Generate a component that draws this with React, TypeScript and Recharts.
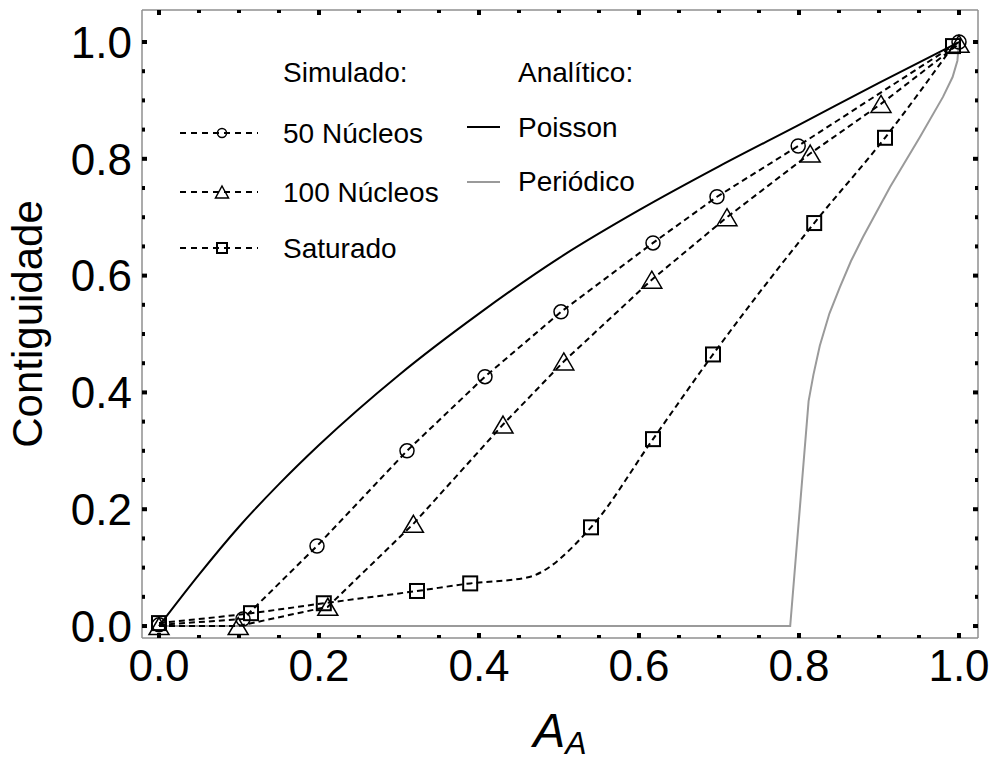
import React from "react";
import { ComposedChart, Line, XAxis, YAxis, Legend } from "recharts";

const FONT = "'Liberation Sans', Arial, sans-serif";
const FRAME = "#8f8f8f";
const GRAY = "#9a9a9a";

const X_DOMAIN = [-0.02125, 1.02375];
const Y_DOMAIN = [-0.0205, 1.0548];
const TICKS = [0, 0.05, 0.1, 0.15, 0.2, 0.25, 0.3, 0.35, 0.4, 0.45, 0.5, 0.55, 0.6, 0.65, 0.7, 0.75, 0.8, 0.85, 0.9, 0.95, 1.0];
const MAJOR = [0, 0.2, 0.4, 0.6, 0.8, 1.0];
const MAJOR_LABELS = ["0.0", "0.2", "0.4", "0.6", "0.8", "1.0"];

// simulado
const n50X = [0, 0.105, 0.1975, 0.31, 0.4075, 0.5025, 0.6175, 0.6975, 0.799, 1.0];
const n50Y = [0.002, 0.012, 0.137, 0.3, 0.427, 0.538, 0.656, 0.735, 0.822, 1.0];
const n100X = [0, 0.099, 0.211, 0.318, 0.43, 0.506, 0.616, 0.71, 0.814, 0.9025, 1.0];
const n100Y = [0, 0.0, 0.033, 0.175, 0.345, 0.453, 0.593, 0.7, 0.809, 0.894, 0.997];
const satX = [0, 0.115, 0.206, 0.3225, 0.389, 0.46, 0.54, 0.6175, 0.6925, 0.819, 0.9075, 0.9925];
const satY = [0.005, 0.022, 0.039, 0.06, 0.073, 0.083, 0.169, 0.32, 0.465, 0.69, 0.836, 0.993];
const SAT_NO_MARKER = [5];

// analitico
const poissonX = [0, 0.05, 0.1, 0.15, 0.2, 0.3, 0.4, 0.5, 0.6, 0.7, 0.8, 0.9, 1.0];
const poissonY = [0, 0.088, 0.17, 0.243, 0.31, 0.43, 0.535, 0.63, 0.712, 0.787, 0.858, 0.93, 1.0];
const periodX = [0, 0.789, 0.812, 0.818, 0.826, 0.838, 0.851, 0.865, 0.88, 0.914, 0.951, 0.98, 0.992, 0.998, 1.0];
const periodY = [0, 0, 0.385, 0.43, 0.48, 0.535, 0.58, 0.625, 0.666, 0.752, 0.837, 0.906, 0.94, 0.968, 1.0];

const toRows = (xs: number[], ys: number[]) => xs.map((x, i) => ({ x, y: ys[i] }));

const n50 = toRows(n50X, n50Y);
const n100 = toRows(n100X, n100Y);
const sat = toRows(satX, satY);
const poisson = toRows(poissonX, poissonY);
const period = toRows(periodX, periodY);

const majorIndex = (v: number) => MAJOR.findIndex((m) => Math.abs(m - v) < 1e-6);

const tickMark = (major: boolean) => (major ? 5 : 3);

const BottomTick = (p: any) => {
  const i = majorIndex(p.payload.value);
  const len = tickMark(i >= 0);
  return (
    <g>
      <rect x={p.x - 2} y={p.y - len} width={4} height={len} fill="#000" />
      {i >= 0 && (
        <text x={p.x} y={p.y + 43} textAnchor="middle" fontSize={44} fontFamily={FONT} fill="#000">
          {MAJOR_LABELS[i]}
        </text>
      )}
    </g>
  );
};

const TopTick = (p: any) => {
  const len = tickMark(majorIndex(p.payload.value) >= 0);
  return <rect x={p.x - 2} y={p.y} width={4} height={len} fill="#000" />;
};

const LeftTick = (p: any) => {
  const i = majorIndex(p.payload.value);
  const len = tickMark(i >= 0);
  return (
    <g>
      <rect x={p.x} y={p.y - 2} width={len} height={4} fill="#000" />
      {i >= 0 && (
        <text x={p.x - 10} y={p.y} dy="0.36em" textAnchor="end" fontSize={44} fontFamily={FONT} fill="#000">
          {MAJOR_LABELS[i]}
        </text>
      )}
    </g>
  );
};

const RightTick = (p: any) => {
  const len = tickMark(majorIndex(p.payload.value) >= 0);
  return <rect x={p.x - len} y={p.y - 2} width={len} height={4} fill="#000" />;
};

const circleDot = (r: number) => (p: any) => (
  <circle key={p.index} cx={p.cx} cy={p.cy} r={r} fill="none" stroke="#000" strokeWidth={1.5} />
);

const triangleDot = (w: number, h: number) => (p: any) => (
  <polygon
    key={p.index}
    points={`${p.cx},${p.cy - h / 2} ${p.cx + w / 2},${p.cy + h / 2} ${p.cx - w / 2},${p.cy + h / 2}`}
    fill="none"
    stroke="#000"
    strokeWidth={1.5}
  />
);

const squareDot = (s: number, skip: number[] = []) => (p: any) =>
  skip.includes(p.index) ? (
    <g key={p.index} />
  ) : (
    <rect key={p.index} x={p.cx - s / 2} y={p.cy - s / 2} width={s} height={s} fill="none" stroke="#000" strokeWidth={2} />
  );

const DASH = "6 4";

const LegendBox = () => {
  const t = { fontSize: 28, fontFamily: FONT, fill: "#000", dominantBaseline: "central" as const };
  const rows = [
    { y: 133, label: "50 Núcleos", dot: circleDot(4.5) },
    { y: 192, label: "100 Núcleos", dot: triangleDot(13, 12) },
    { y: 248, label: "Saturado", dot: squareDot(10) },
  ];
  return (
    <svg width={996} height={280}>
      <text x={283} y={72} {...t}>Simulado:</text>
      {rows.map((r, i) => (
        <g key={i}>
          <line x1={180} x2={258} y1={r.y} y2={r.y} stroke="#000" strokeWidth={2} strokeDasharray="6 5" />
          {r.dot({ cx: 222, cy: r.y, index: i })}
          <text x={283} y={r.y} {...t}>{r.label}</text>
        </g>
      ))}
      <text x={518} y={72} {...t}>Analítico:</text>
      <line x1={467} x2={500} y1={127} y2={127} stroke="#000" strokeWidth={2} />
      <text x={518} y={127} {...t}>Poisson</text>
      <line x1={467} x2={500} y1={182} y2={182} stroke={GRAY} strokeWidth={2} />
      <text x={518} y={181} {...t}>Periódico</text>
    </svg>
  );
};

const XTitle = (p: any) => {
  const vb = p.viewBox;
  return (
    <text x={vb.x + vb.width / 2} y={747} textAnchor="middle" fontFamily={FONT} fontStyle="italic" fill="#000">
      <tspan fontSize={48}>A</tspan>
      <tspan fontSize={32} dy={7}>A</tspan>
    </text>
  );
};

const YTitle = (p: any) => {
  const vb = p.viewBox;
  const cy = vb.y + vb.height / 2;
  return (
    <text
      x={27}
      y={cy}
      transform={`rotate(-90 27 ${cy})`}
      textAnchor="middle"
      dominantBaseline="central"
      fontSize={42}
      fontFamily={FONT}
      fill="#000"
    >
      Contiguidade
    </text>
  );
};

export default function App() {
  const axisLine = { stroke: FRAME, strokeWidth: 1.5 };
  const lineProps = { xAxisId: "b", yAxisId: "l", dataKey: "y", activeDot: false, isAnimationActive: false };
  return (
    <div style={{ position: "absolute", left: 0, top: 0, width: 996, height: 760, background: "#fff" }}>
      <ComposedChart width={996} height={760} margin={{ top: 0, right: 0, bottom: 0, left: 0 }}>
        <XAxis
          xAxisId="b"
          type="number"
          dataKey="x"
          domain={X_DOMAIN}
          allowDataOverflow
          ticks={TICKS}
          interval={0}
          tick={BottomTick}
          tickLine={false}
          tickSize={0}
          tickMargin={0}
          height={122}
          axisLine={axisLine}
          label={{ content: XTitle }}
        />
        <XAxis
          xAxisId="t"
          orientation="top"
          type="number"
          dataKey="x"
          domain={X_DOMAIN}
          allowDataOverflow
          ticks={TICKS}
          interval={0}
          tick={TopTick}
          tickLine={false}
          tickSize={0}
          tickMargin={0}
          height={10}
          axisLine={axisLine}
        />
        <YAxis
          yAxisId="l"
          type="number"
          domain={Y_DOMAIN}
          allowDataOverflow
          ticks={TICKS}
          interval={0}
          tick={LeftTick}
          tickLine={false}
          tickSize={0}
          tickMargin={0}
          width={142}
          axisLine={axisLine}
          label={{ content: YTitle }}
        />
        <YAxis
          yAxisId="r"
          orientation="right"
          type="number"
          domain={Y_DOMAIN}
          allowDataOverflow
          ticks={TICKS}
          interval={0}
          tick={RightTick}
          tickLine={false}
          tickSize={0}
          tickMargin={0}
          width={18}
          axisLine={axisLine}
        />
        <Legend
          layout="vertical"
          align="center"
          verticalAlign="middle"
          content={LegendBox}
          wrapperStyle={{ left: 0, top: 0, width: 996, height: 280 }}
        />
        {/* invisible carrier so the top/right frame axes are drawn */}
        <Line xAxisId="t" yAxisId="r" data={period} dataKey="y" stroke="none" dot={false} activeDot={false} legendType="none" isAnimationActive={false} />
        <Line {...lineProps} data={period} type="linear" stroke={GRAY} strokeWidth={2} dot={false} />
        <Line {...lineProps} data={poisson} type="monotone" stroke="#000" strokeWidth={2} dot={false} />
        <Line {...lineProps} data={sat} type="monotone" stroke="#000" strokeWidth={2} strokeDasharray={DASH} dot={squareDot(14, SAT_NO_MARKER)} />
        <Line {...lineProps} data={n100} type="linear" stroke="#000" strokeWidth={2} strokeDasharray={DASH} dot={triangleDot(20, 17)} />
        <Line {...lineProps} data={n50} type="linear" stroke="#000" strokeWidth={2} strokeDasharray={DASH} dot={circleDot(7)} />
      </ComposedChart>
    </div>
  );
}
